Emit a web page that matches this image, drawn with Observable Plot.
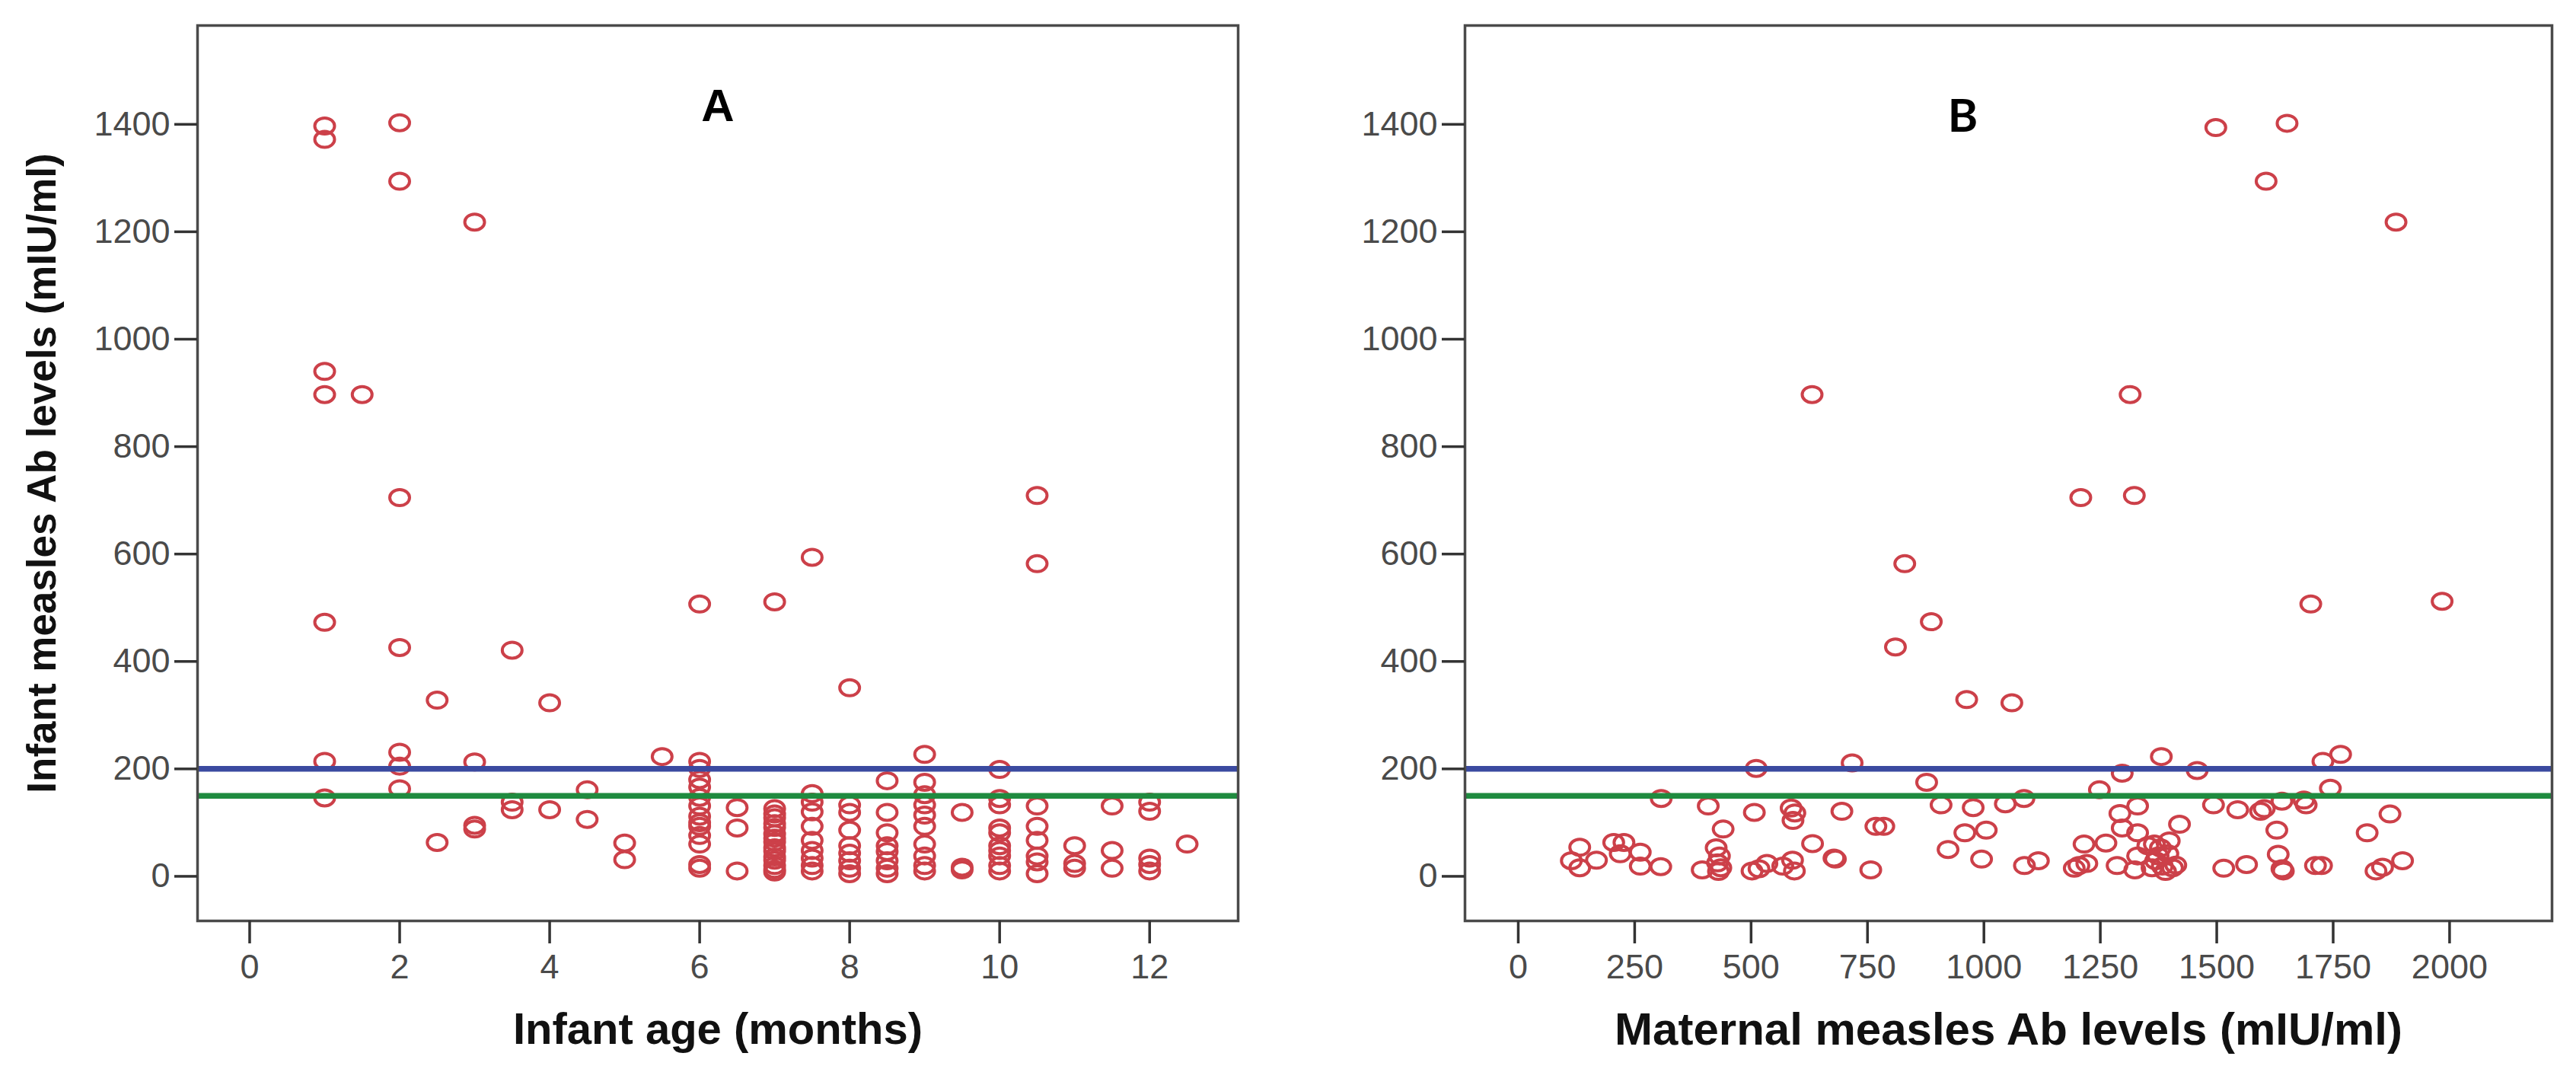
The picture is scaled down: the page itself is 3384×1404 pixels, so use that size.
<!DOCTYPE html>
<html>
<head>
<meta charset="utf-8">
<script src="https://cdn.jsdelivr.net/npm/d3@7"></script>
<script src="https://cdn.jsdelivr.net/npm/@observablehq/plot@0.6"></script>
<style>
  html, body { margin: 0; padding: 0; background: #fff; }
  #wrap { display: flex; flex-direction: row; width: 3384px; height: 1404px; }
  #wrap svg { display: block; }
</style>
</head>
<body>
<div id="wrap"></div>
<script>
// ---------- Data ----------
// Panel A: infant age (months) vs infant measles Ab levels (mIU/ml)
const ageMonths = [
  1,1,1,1,1,1,1,
  1.5,
  2,2,2,2,2,2,2,
  2.5,2.5,
  3,3,3,3,
  3.5,3.5,3.5,
  4,4,
  4.5,4.5,
  5,5,
  5.5,
  6,6,6,6,6,6,6,6,6,6,6,6,6,6,
  6.5,6.5,6.5,
  7,7,7,7,7,7,7,7,7,7,7,7,7,7,7,7,
  7.5,7.5,7.5,7.5,7.5,7.5,7.5,7.5,7.5,7.5,
  8,8,8,8,8,8,8,8,8,
  8.5,8.5,8.5,8.5,8.5,8.5,8.5,8.5,
  9,9,9,9,9,9,9,9,9,9,
  9.5,9.5,9.5,
  10,10,10,10,10,10,10,10,10,10,
  10.5,10.5,10.5,10.5,10.5,10.5,10.5,10.5,
  11,11,11,
  11.5,11.5,11.5,
  12,12,12,12,12,
  12.5
];
const infantAbA = [
  1397,1372,940,897,473,214,146,
  897,
  1403,1294,705,426,231,205,163,
  328,63,
  1218,213,95,88,
  421,138,124,
  323,124,
  161,106,
  62,31,
  223,
  507,214,201,180,166,147,131,112,100,93,76,60,22,15,
  128,90,10,
  511,126,116,109,98,91,79,71,64,53,47,36,30,20,13,8,
  594,154,138,120,93,67,48,34,20,10,
  351,133,119,86,57,43,29,15,5,
  178,119,81,57,46,29,15,5,
  227,175,152,133,114,93,60,38,20,10,
  119,17,12,
  199,145,133,90,81,57,48,38,20,10,
  709,582,131,93,67,38,27,5,
  57,24,15,
  131,48,15,
  138,121,34,22,10,
  60
];

// Panel B: maternal measles Ab levels vs infant measles Ab levels (mIU/ml)
const maternalAb = [
  1498,1651,1606,1885,631,1314,1208,1323,830,887,1702,1984,810,963,1060,
  511,307,408,507,440,586,594,590,632,678,
  132,114,132,168,205,227,219,262,262,306,
  395,425,432,428,435,430,
  502,517,534,568,589,593,
  717,695,681,757,768,785,877,908,977,959,1005,923,995,1046,1086,1087,1117,
  1215,1262,1204,1221,1194,1248,1297,1292,1330,1297,1330,1286,1324,1352,1330,1381,1420,1458,
  1379,1398,1369,1383,1361,1405,1374,1412,1390,1395,1366,
  1728,1766,1744,1493,1545,1594,1602,1640,1687,1692,1629,1632,1643,1640,1515,1564,1712,1725,1823,1872,1842,1856,1899
];
const infantAbB = [
  1394,1402,1294,1218,897,897,705,709,582,474,507,512,427,329,323,
  201,145,131,119,88,127,118,104,61,34,
  54,29,16,30,63,63,42,45,19,18,
  12,53,38,25,16,9,
  10,14,24,19,30,10,
  211,121,32,12,93,93,175,133,128,81,86,50,32,135,145,20,29,
  60,62,20,24,15,161,192,117,131,90,81,20,12,57,38,223,97,197,
  53,66,29,19,16,16,38,21,9,42,60,
  214,227,164,133,124,121,126,140,142,133,86,41,10,14,15,22,20,20,81,116,10,17,29
];

// Reference lines (mIU/ml)
const refLevels = [200, 150];
const refColors = ["#3b4aa0", "#1f8b3f"];

// Tick labels
const ticksAgeMonths = [0, 2, 4, 6, 8, 10, 12];
const ticksMaternal = [0, 250, 500, 750, 1000, 1250, 1500, 1750, 2000];
const ticksInfantAb = [0, 200, 400, 600, 800, 1000, 1200, 1400];

// Texts
const panelLetters = ["A", "B"];
const xTitles = ["Infant age (months)", "Maternal measles Ab levels (mIU/ml)"];
const yTitle = ["Infant measles Ab levels (mIU/ml)"];

// ---------- Styling ----------
const dotColor = "#cc4049";
const axisFont = "'Liberation Sans', Arial, sans-serif";
const plain = d => String(d);
// slightly wide open ellipse like the SPSS markers
const ellipse = {
  draw(ctx) {
    const rx = 13, ry = 10.5, k = 0.5523;
    ctx.moveTo(rx, 0);
    ctx.bezierCurveTo(rx, ry * k, rx * k, ry, 0, ry);
    ctx.bezierCurveTo(-rx * k, ry, -rx, ry * k, -rx, 0);
    ctx.bezierCurveTo(-rx, -ry * k, -rx * k, -ry, 0, -ry);
    ctx.bezierCurveTo(rx * k, -ry, rx, -ry * k, rx, 0);
    ctx.closePath();
  }
};

const yDomain = [-83, 1584];

function panel({width, marginLeft, marginRight, xDomain, xTicks, xs, ys, letter, letterDx, letterDy, letterFont, xTitle, xTitleSize, showYTitle}) {
  const marks = [
    Plot.dot(ys, {x: xs, y: ys, symbol: ellipse, r: 13, fill: "none", stroke: dotColor, strokeWidth: 4}),
    Plot.ruleY([refLevels[0]], {stroke: refColors[0], strokeWidth: 7.5}),
    Plot.ruleY([refLevels[1]], {stroke: refColors[1], strokeWidth: 7.5}),
    Plot.frame({stroke: "#4a4a4a", strokeWidth: 3.5}),
    Plot.axisX(xTicks, {tickSize: 30, tickPadding: 14, fontSize: 45, tickFormat: plain, stroke: "#333", strokeWidth: 3.5, fill: "#4a4a4a", label: null}),
    Plot.axisY(ticksInfantAb, {tickSize: 30, tickPadding: 6, fontSize: 45, tickFormat: plain, stroke: "#333", strokeWidth: 3.5, fill: "#4a4a4a", label: null}),
    Plot.text([letter], {frameAnchor: "top", dx: letterDx, dy: letterDy, lineAnchor: "middle", textAnchor: "middle",
      fontSize: 60, fontWeight: "bold", fontFamily: letterFont, fill: "#000"}),
    Plot.text([xTitle], {frameAnchor: "bottom", dy: 143, lineAnchor: "middle", textAnchor: "middle",
      fontSize: xTitleSize, fontWeight: "bold", fill: "#111"})
  ];
  if (showYTitle) {
    marks.push(Plot.text(yTitle, {frameAnchor: "left", dx: -203, rotate: -90, lineAnchor: "middle", textAnchor: "middle",
      fontSize: 53, fontWeight: "bold", fill: "#111"}));
  }
  return Plot.plot({
    width, height: 1404,
    marginLeft, marginRight, marginTop: 33, marginBottom: 195,
    style: {fontFamily: axisFont, background: "#fff"},
    x: {domain: xDomain},
    y: {domain: yDomain},
    marks
  });
}

const chartA = panel({
  width: 1700, marginLeft: 259, marginRight: 74,
  xDomain: [-0.695, 13.18], xTicks: ticksAgeMonths,
  xs: ageMonths, ys: infantAbA,
  letter: panelLetters[0], letterDx: 0, letterDy: 106, letterFont: axisFont,
  xTitle: xTitles[0], xTitleSize: 58, showYTitle: true
});
const chartB = panel({
  width: 1684, marginLeft: 224, marginRight: 32,
  xDomain: [-114.4, 2220], xTicks: ticksMaternal,
  xs: maternalAb, ys: infantAbB,
  letter: panelLetters[1], letterDx: -60, letterDy: 120, letterFont: "Lato, 'Liberation Sans', sans-serif",
  xTitle: xTitles[1], xTitleSize: 60, showYTitle: false
});

const wrap = document.getElementById("wrap");
wrap.appendChild(chartA);
wrap.appendChild(chartB);
</script>
</body>
</html>
